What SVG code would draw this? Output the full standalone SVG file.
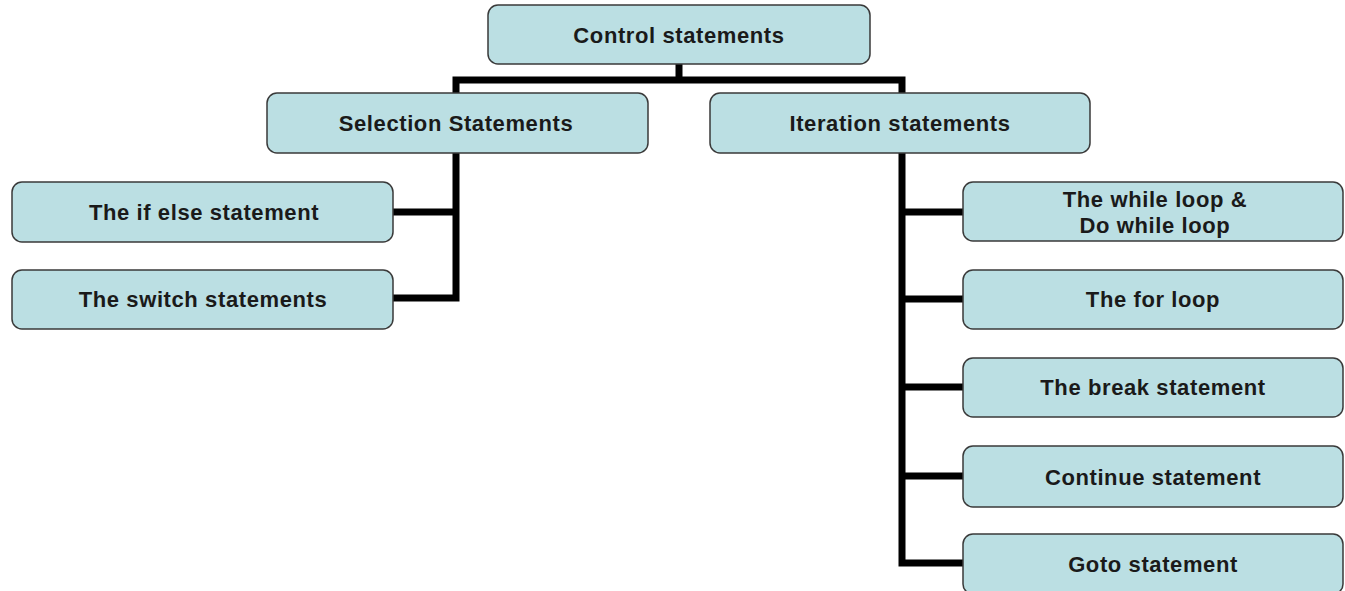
<svg xmlns="http://www.w3.org/2000/svg" width="1345" height="591" viewBox="0 0 1345 591">
<style>
.box{fill:#bbdfe3;stroke:#3a3a3a;stroke-width:1.5}
.lbl{font-family:"Liberation Sans",Arial,sans-serif;font-weight:bold;font-size:22px;letter-spacing:0.6px;fill:#1a1a1a;text-anchor:middle}
.con{fill:none;stroke:#000;stroke-width:7;stroke-linejoin:miter;stroke-linecap:butt}
</style>
<rect width="1345" height="591" fill="#fff"/>
<g id="connectors">
<path class="con" d="M679,64 V80"/>
<path class="con" d="M456,93 V80 H902 V93"/>
<path class="con" d="M456,153 V298 H393"/>
<path class="con" d="M456,212 H393"/>
<path class="con" d="M902,153 V563 H963"/>
<path class="con" d="M902,212 H963"/>
<path class="con" d="M902,299 H963"/>
<path class="con" d="M902,387 H963"/>
<path class="con" d="M902,476 H963"/>
</g>
<g id="n-control"><rect class="box" x="488" y="5" width="382" height="59" rx="10"/><text class="lbl" x="679" y="43">Control statements</text></g>
<g id="n-selection"><rect class="box" x="267" y="93" width="381" height="60" rx="10"/><text class="lbl" x="456" y="131">Selection Statements</text></g>
<g id="n-iteration"><rect class="box" x="710" y="93" width="380" height="60" rx="10"/><text class="lbl" x="900" y="131">Iteration statements</text></g>
<g id="n-ifelse"><rect class="box" x="12" y="182" width="381" height="60" rx="10"/><text class="lbl" x="204" y="220">The if else statement</text></g>
<g id="n-switch"><rect class="box" x="12" y="270" width="381" height="59" rx="10"/><text class="lbl" x="203" y="307">The switch statements</text></g>
<g id="n-while"><rect class="box" x="963" y="182" width="380" height="59" rx="10"/><text class="lbl" x="1155" y="207">The while loop &amp;</text><text class="lbl" x="1155" y="233">Do while loop</text></g>
<g id="n-for"><rect class="box" x="963" y="270" width="380" height="59" rx="10"/><text class="lbl" x="1153" y="307">The for loop</text></g>
<g id="n-break"><rect class="box" x="963" y="358" width="380" height="59" rx="10"/><text class="lbl" x="1153" y="395">The break statement</text></g>
<g id="n-continue"><rect class="box" x="963" y="446" width="380" height="61" rx="10"/><text class="lbl" x="1153" y="485">Continue statement</text></g>
<g id="n-goto"><rect class="box" x="963" y="534" width="380" height="60" rx="10"/><text class="lbl" x="1153" y="572">Goto statement</text></g>
</svg>
